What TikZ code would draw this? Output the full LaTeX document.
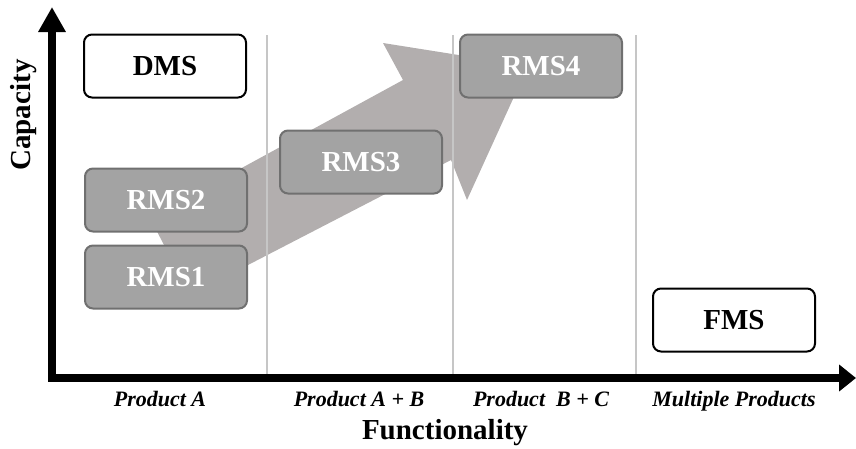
\documentclass[tikz,border=0pt]{standalone}
\usepackage{fontspec}
\setmainfont{Liberation Serif}
\usetikzlibrary{arrows.meta}
\definecolor{boxgrey}{HTML}{A3A3A3}
\definecolor{boxedge}{HTML}{707070}
\definecolor{arrowgrey}{HTML}{B2AEAE}
\definecolor{sepgrey}{HTML}{C6C6C6}
\tikzset{
  sys box/.style = {rounded corners=8pt, line width=2pt, minimum width=162pt,
    minimum height=63pt, inner sep=0pt, font=\fontsize{29}{30}\selectfont\bfseries},
  white box/.style = {sys box, draw=black, fill=white, text=black},
  grey box/.style = {sys box, draw=boxedge, fill=boxgrey, text=white},
  product label/.style = {anchor=base, font=\fontsize{22}{23}\selectfont\bfseries\itshape},
  axis label/.style = {font=\fontsize{29}{30}\selectfont\bfseries}
}

\begin{document}
\begin{tikzpicture}[x=1pt,y=-1pt]
  \useasboundingbox (0,0) rectangle (856,448);

  % big trend arrow
  \fill[arrowgrey] (150,218) -- (403,80) -- (383,43) -- (528,66)
    -- (467,200) -- (451,160) -- (190,295) -- cycle;

  \foreach \x in {267,453,636}
    \draw[sepgrey, line width=1.5pt] (\x,35) -- (\x,374);

  % axes
  \coordinate (top) at (52,7);
  \coordinate (origin) at (52,378);
  \coordinate (right) at (856,378);
  \draw[line width=8pt,
    {Triangle[length=25pt,width=26pt]}-{Triangle[length=17pt,width=26pt]}]
    (top) -- (origin) -- (right);

  \node[white box] (dms) at (165,66) {DMS};
  \node[grey box] (rms2) at (166,200) {RMS2};
  \node[grey box] (rms1) at (166,277) {RMS1};
  \node[grey box] (rms3) at (361,162) {RMS3};
  \node[grey box] (rms4) at (541,66) {RMS4};
  \node[white box] (fms) at (734,320) {FMS};

  \node[axis label, rotate=90] (capacity) at (24,115) {Capacity};
  \node[axis label] (functionality) at (445,433) {Functionality};

  \node[product label] (prodA) at (160,406) {Product A};
  \node[product label] (prodAB) at (359,406) {Product A + B};
  \node[product label] (prodBC) at (541,406) {Product~ B + C};
  \node[product label] (prodM) at (734,406) {Multiple Products};
\end{tikzpicture}
\end{document}
